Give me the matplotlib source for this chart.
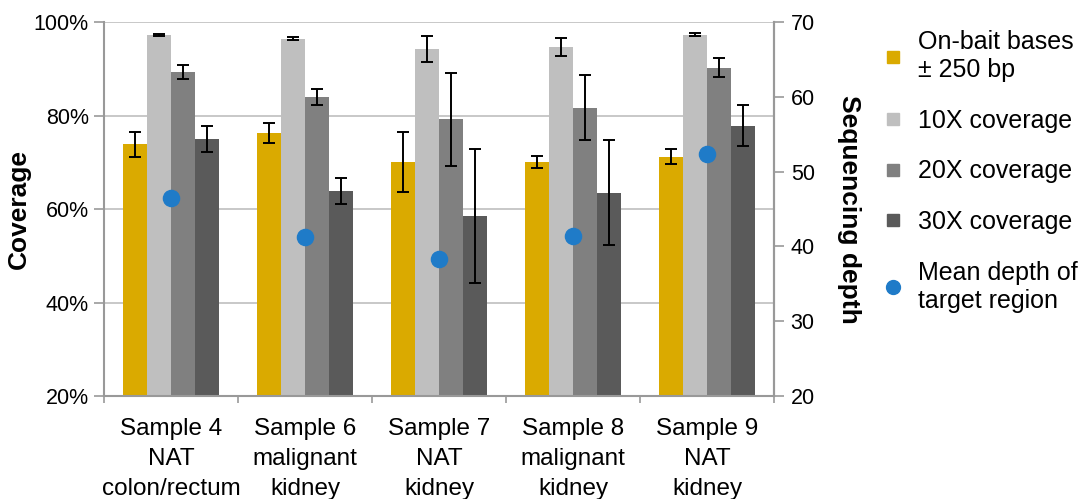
import matplotlib
matplotlib.use("Agg")
import matplotlib.pyplot as plt
from matplotlib.lines import Line2D
import numpy as np

plt.rcParams['font.family'] = ['Liberation Sans', 'DejaVu Sans']

samples = ["Sample 4\nNAT\ncolon/rectum", "Sample 6\nmalignant\nkidney",
           "Sample 7\nNAT\nkidney", "Sample 8\nmalignant\nkidney",
           "Sample 9\nNAT\nkidney"]

# coverage percentages and error bars
on_bait = [73.8, 76.3, 70.1, 70.0, 71.2]
on_bait_err = [2.7, 2.2, 6.4, 1.3, 1.6]
cov10 = [97.2, 96.4, 94.2, 94.7, 97.3]
cov10_err = [0.3, 0.3, 2.8, 1.9, 0.3]
cov20 = [89.4, 84.0, 79.2, 81.7, 90.2]
cov20_err = [1.5, 1.7, 9.9, 7.0, 2.0]
cov30 = [75.0, 63.9, 58.5, 63.5, 77.8]
cov30_err = [2.7, 2.8, 14.3, 11.3, 4.4]

# mean depth of target region (right axis)
mean_depth = [46.5, 41.2, 38.3, 41.4, 52.4]

series = [
    (on_bait, on_bait_err, "#DAAA00", "On-bait bases\n\u00b1 250 bp"),
    (cov10, cov10_err, "#BFBFBF", "10X coverage"),
    (cov20, cov20_err, "#808080", "20X coverage"),
    (cov30, cov30_err, "#5A5A5A", "30X coverage"),
]

fig = plt.figure(figsize=(10.92, 4.99), dpi=100)
ax = fig.add_axes([0.0952, 0.2064, 0.6136, 0.7495])

x = np.arange(len(samples))
width = 0.18
for i, (vals, errs, color, label) in enumerate(series):
    pos = x + (i - 1.5) * width
    ax.bar(pos, vals, width, color=color, zorder=2)
    ax.errorbar(pos, vals, yerr=errs, fmt="none", ecolor="black",
                elinewidth=1.4, capsize=4.5, capthick=1.4, zorder=3)

ax.set_ylim(20, 100)
ax.set_xlim(-0.5, len(samples) - 0.5)
ax.set_yticks([20, 40, 60, 80, 100])
ax.set_yticklabels([f"{v}%" for v in [20, 40, 60, 80, 100]], fontsize=15.5)
ax.yaxis.grid(True, color="#BFBFBF", linewidth=1.2, zorder=0)
ax.set_axisbelow(True)
ax.set_xticks(x)
ax.set_xticklabels(samples, fontsize=17.5, linespacing=1.45)
ax.set_xticks(np.arange(len(samples) + 1) - 0.5, minor=True)
ax.tick_params(axis="x", which="major", length=0, pad=16)
ax.tick_params(axis="x", which="minor", length=5, color="#999999", width=1.2)
ax.tick_params(axis="y", length=7, color="#999999", width=1.2, pad=4)
ax.set_ylabel("Coverage", fontsize=19, fontweight="bold", ha="center", va="center")
ax.yaxis.set_label_coords(-0.127, 0.5)
ax.spines["top"].set_visible(False)
for side in ["left", "bottom", "right"]:
    ax.spines[side].set_color("#999999")
    ax.spines[side].set_linewidth(1.5)

ax2 = ax.twinx()
ax2.set_ylim(20, 70)
ax2.scatter(x, mean_depth, s=135, color="#1F7BC8", zorder=4)
ax2.set_yticks([20, 30, 40, 50, 60, 70])
ax2.tick_params(axis="y", length=7, color="#999999", width=1.2, labelsize=15.5, pad=5)
ax2.set_ylabel("Sequencing depth", fontsize=19, fontweight="bold",
               rotation=270, ha="center", va="center")
ax2.yaxis.set_label_coords(1.112, 0.5)
ax2.spines["top"].set_visible(False)
ax2.spines["left"].set_visible(False)
ax2.spines["bottom"].set_visible(False)
ax2.spines["right"].set_color("#999999")
ax2.spines["right"].set_linewidth(1.5)

handles = [Line2D([], [], marker="s", linestyle="none", color=c, markersize=9)
           for _, _, c, _ in series]
handles.append(Line2D([], [], marker="o", linestyle="none", color="#1F7BC8",
                      markersize=10))
labels = [s[3] for s in series] + ["Mean depth of\ntarget region"]
fig.legend(handles, labels, loc="upper left", bbox_to_anchor=(0.79, 0.985),
           frameon=False, fontsize=18, labelspacing=1.07, handlelength=0.6,
           handletextpad=0.7)

fig.savefig("out.png", dpi=100)
